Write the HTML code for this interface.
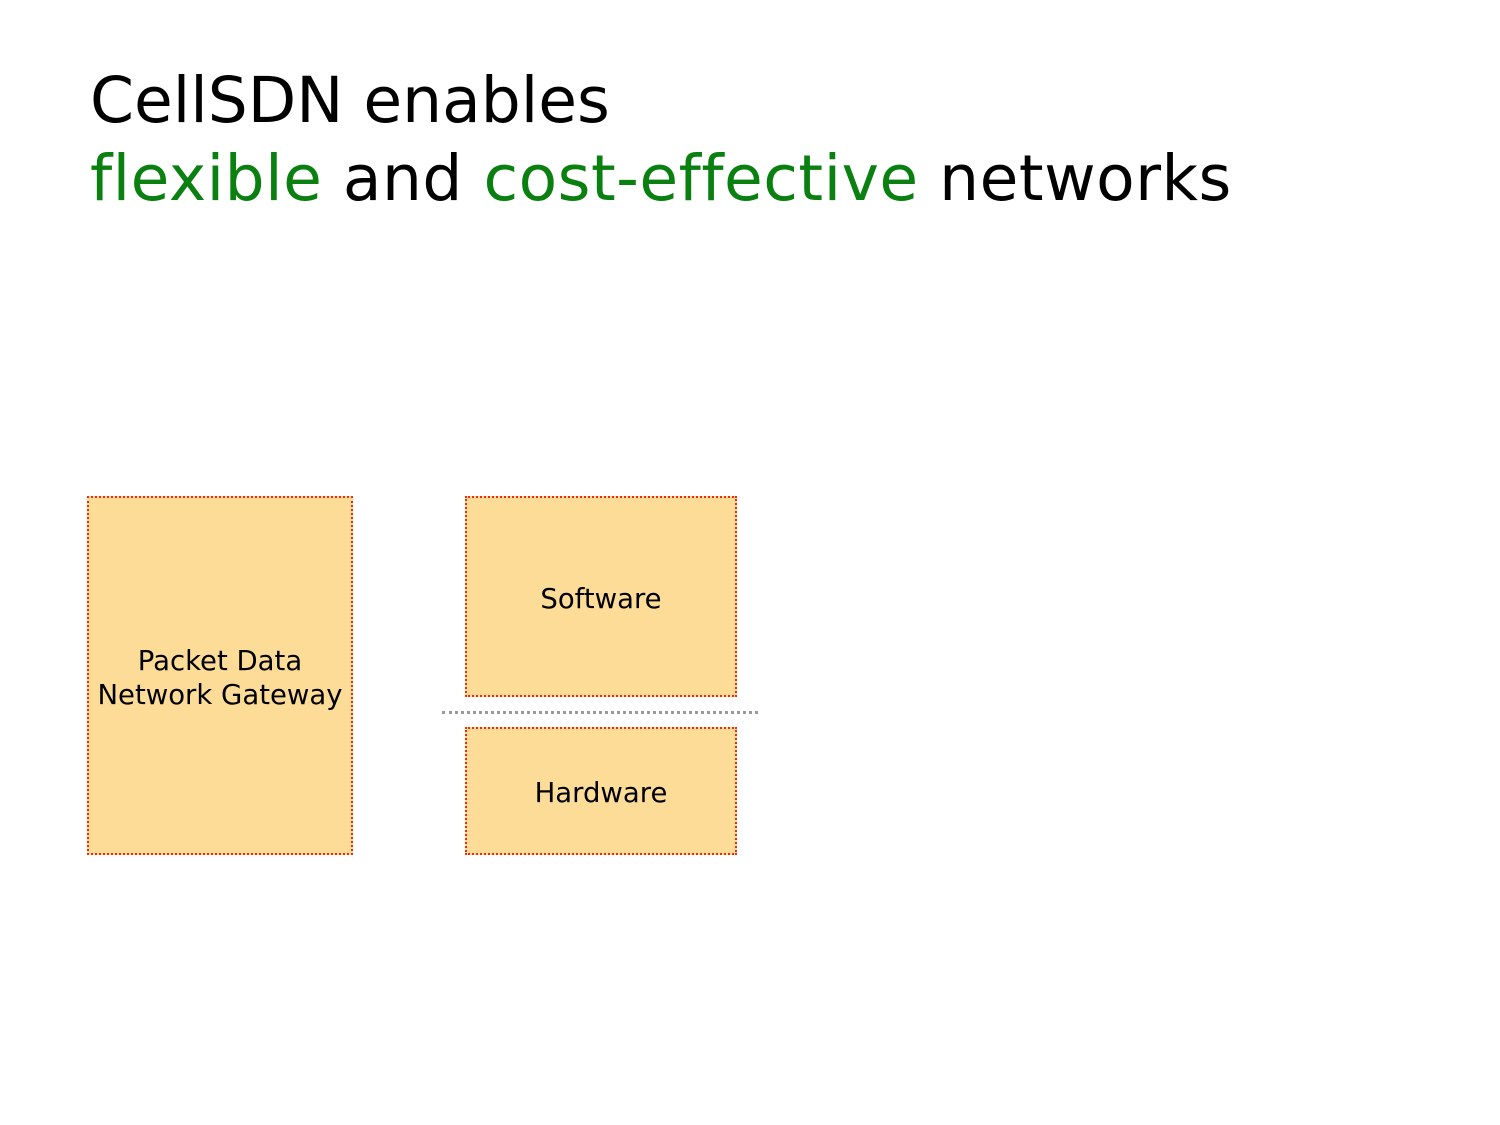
<!DOCTYPE html>
<html><head><style>
body{margin:0;width:1500px;height:1125px;background:#fff;position:relative;font-family:"DejaVu Sans","Liberation Sans",sans-serif;overflow:hidden}
.t{position:absolute;left:90px;font-size:63px;color:#000;white-space:nowrap;line-height:1;letter-spacing:0.5px}
.g{color:#0a8010}
.b{position:absolute;background:#fddc98;border:2px dotted #f02a10;box-sizing:border-box;display:flex;align-items:center;justify-content:center;text-align:center;font-size:27.5px;line-height:34px;color:#000;padding-top:4px}
</style></head><body>
<div class="t" style="top:69px;letter-spacing:0">CellSDN enables</div>
<div class="t" style="top:147px"><span class="g">flexible</span> and <span class="g">cost-effective</span> networks</div>
<div class="b" style="left:87px;top:496px;width:266px;height:359px">Packet Data<br>Network Gateway</div>
<div class="b" style="left:465px;top:496px;width:272px;height:201px">Software</div>
<div class="b" style="left:465px;top:727px;width:272px;height:128px">Hardware</div>
<div style="position:absolute;left:442px;top:711px;width:316px;border-top:3px dotted #999"></div>
</body></html>
